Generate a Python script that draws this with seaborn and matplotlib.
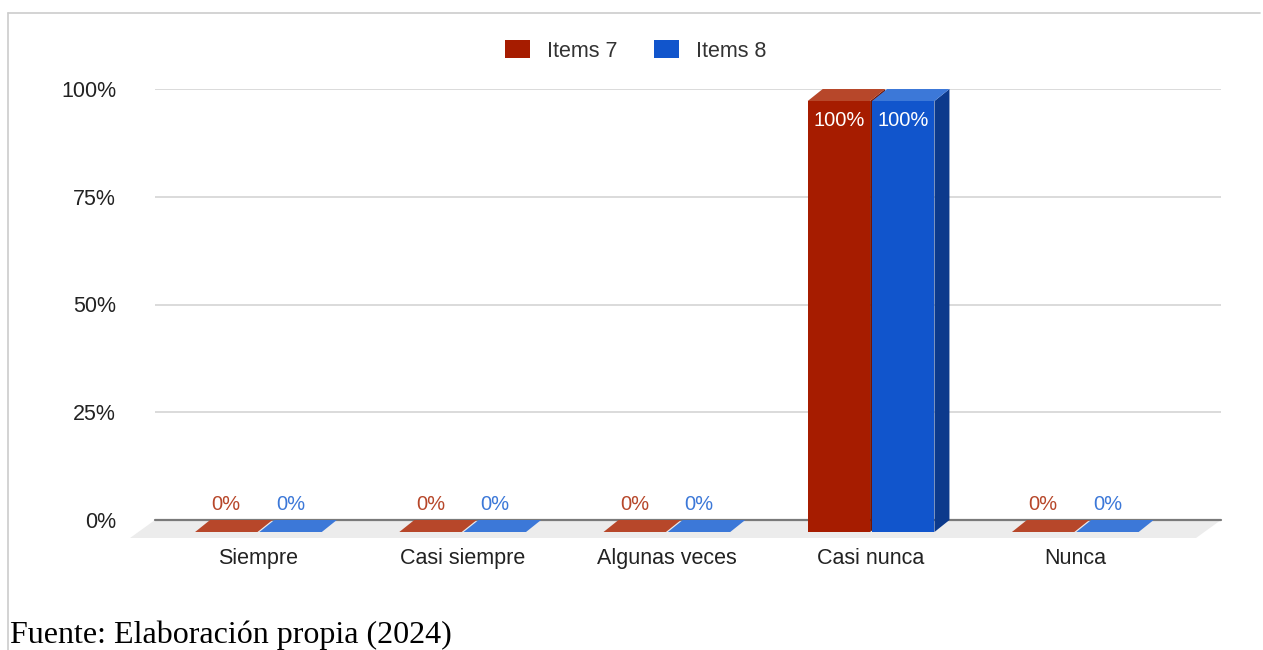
import matplotlib
matplotlib.use("Agg")
import matplotlib.pyplot as plt
from matplotlib.patches import Polygon, Patch
from matplotlib.lines import Line2D
import seaborn as sns
import pandas as pd
import numpy as np

# Data
categories = ["Siempre", "Casi siempre", "Algunas veces", "Casi nunca", "Nunca"]
series = ["Items 7", "Items 8"]
items_7 = [0, 0, 0, 100, 0]
items_8 = [0, 0, 0, 100, 0]
y_ticks = [0, 25, 50, 75, 100]
y_tick_labels = ["0%", "25%", "50%", "75%", "100%"]
source_note = "Fuente: Elaboración propia (2024)"

# Colours (front face / top face / side face)
front_colors = {"Items 7": "#a61c00", "Items 8": "#1155cc"}
top_colors = {"Items 7": "#b7472a", "Items 8": "#3c78d8"}
side_colors = {"Items 7": "#741300", "Items 8": "#0c3a8c"}

df = pd.DataFrame({
    "categoria": categories * 2,
    "serie": [series[0]] * len(categories) + [series[1]] * len(categories),
    "valor": items_7 + items_8,
})

sns.set_style("white")
plt.rcParams["font.family"] = ["Liberation Sans", "DejaVu Sans"]

W, H = 1263, 650
fig = plt.figure(figsize=(W / 100, H / 100), dpi=100)
ax = fig.add_axes([155 / W, 130 / H, 1066 / W, 431 / H])

sns.barplot(
    data=df, x="categoria", y="valor", hue="serie",
    palette=front_colors, width=0.63, gap=0.03, saturation=1,
    linewidth=0, legend=False, ax=ax, zorder=3,
)

ax.set_xlim(-0.58, 4.64)
ax.set_ylim(0, 100)

# depth of the pseudo-3D effect, in pixels -> data units
px_x = 1066 / (ax.get_xlim()[1] - ax.get_xlim()[0])
px_y = 431 / (ax.get_ylim()[1] - ax.get_ylim()[0])
ddx, ddy = 15 / px_x, 12 / px_y
fdx, fdy = 25 / px_x, 18 / px_y

# gridlines
for t in y_ticks[1:]:
    ax.axhline(t, color="#d4d4d4", lw=1.2, zorder=0)

# floor + zero line
x0, x1 = ax.get_xlim()
ax.add_patch(Polygon([(x0, 0), (x1, 0), (x1 - fdx, -fdy), (x0 - fdx, -fdy)],
                     closed=True, facecolor="#ececec", edgecolor="none",
                     zorder=1, clip_on=False))
ax.plot([x0, x1], [0, 0], color="#7a7a7a", lw=1.6, zorder=1.5, clip_on=False)

# 3D faces and labels
for name, cont in zip(series, ax.containers):
    for bar in cont:
        bx, bw, bh = bar.get_x(), bar.get_width(), bar.get_height()
        bar.set_x(bx - ddx)
        bar.set_y(-ddy)
        bar.set_clip_on(False)
        side = [(bx + bw - ddx, -ddy), (bx + bw, 0), (bx + bw, bh), (bx + bw - ddx, bh - ddy)]
        top = [(bx - ddx, bh - ddy), (bx + bw - ddx, bh - ddy), (bx + bw, bh), (bx, bh)]
        ax.add_patch(Polygon(side, closed=True, facecolor=side_colors[name],
                             edgecolor="none", zorder=2.9, clip_on=False))
        ax.add_patch(Polygon(top, closed=True, facecolor=top_colors[name],
                             edgecolor="none", zorder=3.1, clip_on=False))
        cx = bx + bw / 2 - ddx
        if bh > 0:
            ax.text(cx, bh - ddy - 19 / px_y, f"{bh:.0f}%", ha="center", va="center",
                    color="white", fontsize=14.5, zorder=4)
        else:
            ax.text(cx, 16 / px_y, f"{bh:.0f}%", ha="center", va="center",
                    color=top_colors[name], fontsize=14.5, zorder=4)

# axes styling
ax.set_xticks(np.arange(len(categories)) - ddx)
ax.set_xticklabels(categories, fontsize=15.5, color="#222222")
ax.set_yticks(y_ticks)
ax.set_yticklabels(y_tick_labels, fontsize=15.5, color="#222222")
ax.tick_params(axis="x", length=0, pad=20)
ax.tick_params(axis="y", length=0, pad=28)
ax.set_xlabel("")
ax.set_ylabel("")
for s in ax.spines.values():
    s.set_visible(False)
ax.set_facecolor("none")

# legend
handles = [Patch(facecolor=front_colors[s], edgecolor="none") for s in series]
fig.legend(handles, series, loc="center", bbox_to_anchor=(636 / W, 1 - 51 / H),
           ncol=2, frameon=False, fontsize=15.5, handlelength=1.15, handleheight=0.85,
           handletextpad=0.8, columnspacing=1.7, labelcolor="#333333")

# outer frame lines
fig.add_artist(Line2D([8 / W, 1260 / W], [1 - 13 / H, 1 - 13 / H], color="#cccccc", lw=1.2))
fig.add_artist(Line2D([8 / W, 8 / W], [1 - 13 / H, 0], color="#cccccc", lw=1.2))

# source note
fig.text(10 / W, 7 / H, source_note, family=["Liberation Serif", "DejaVu Serif"],
         fontsize=23, color="black", ha="left", va="baseline")

fig.savefig("out.png", dpi=100)
